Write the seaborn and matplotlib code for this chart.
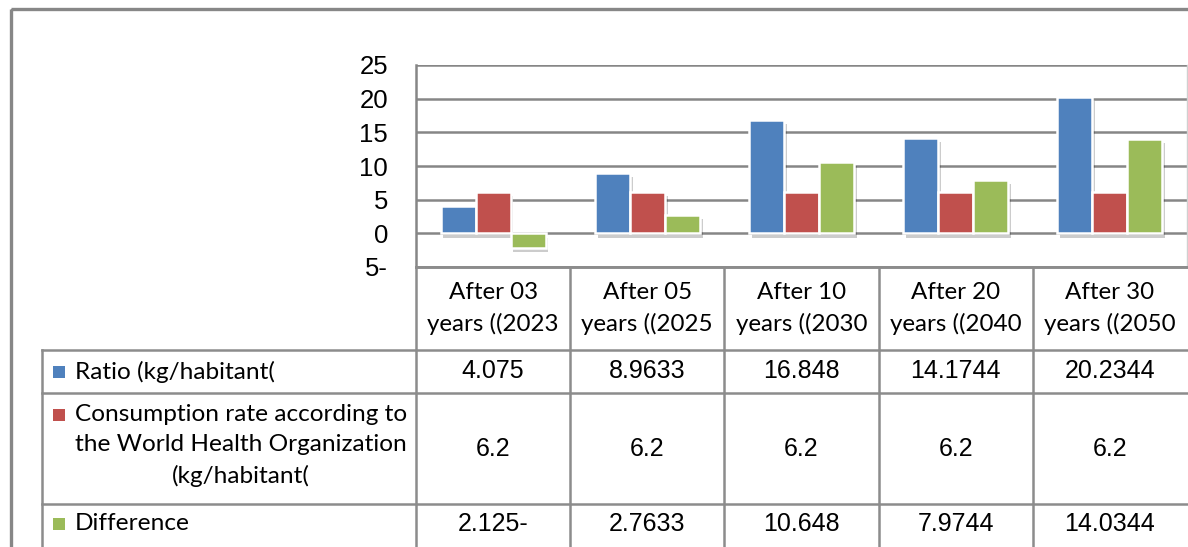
import matplotlib
matplotlib.use("Agg")
import matplotlib.pyplot as plt
import matplotlib.patheffects as pe
from matplotlib.patches import Rectangle
import pandas as pd
import seaborn as sns

# ---- data -------------------------------------------------------------
periods = ["After 03\nyears ((2023", "After 05\nyears ((2025", "After 10\nyears ((2030",
           "After 20\nyears ((2040", "After 30\nyears ((2050"]
series = ["Ratio (kg/habitant(",
          "Consumption rate according to\nthe World Health Organization\n(kg/habitant(",
          "Difference"]
ratio = [4.075, 8.9633, 16.848, 14.1744, 20.2344]
who_rate = [6.2, 6.2, 6.2, 6.2, 6.2]
difference = [-2.125, 2.7633, 10.648, 7.9744, 14.0344]
y_ticks = [-5, 0, 5, 10, 15, 20, 25]

colors = ["#4F81BD", "#C0504D", "#9BBB59"]
values = [ratio, who_rate, difference]


def rtl_num(v):
    """Number with the minus sign written after the digits."""
    s = f"{abs(v):g}"
    return s + "-" if v < 0 else s


df = pd.DataFrame({
    "period": [p for _ in series for p in periods],
    "series": [s for s in series for _ in periods],
    "value": [v for vals in values for v in vals],
})

# ---- figure layout (pixel based) -------------------------------------
W, H = 1188, 547
fig = plt.figure(figsize=(W / 100, H / 100), dpi=100)
fig.patch.set_facecolor("white")

GRID = "#868686"
LINE = "#8c8c8c"
NUM_FONT = "Liberation Sans"
TXT_FONT = "Lato"

PL, PT, PR, PB = 416, 65, 1187, 267


def px_axes(l, t, r, b, **kw):
    return fig.add_axes([l / W, 1 - b / H, (r - l) / W, (b - t) / H], **kw)


ax = px_axes(PL, PT, PR, PB)
sns.barplot(data=df, x="period", y="value", hue="series", hue_order=series,
            order=periods, palette=colors, saturation=1, width=0.68,
            edgecolor="white", linewidth=1.8, legend=False, ax=ax, zorder=3)

for bar in ax.patches:
    bar.set_path_effects([pe.SimplePatchShadow(offset=(2, -3), shadow_rgbFace="#000000", alpha=0.2),
                          pe.Normal()])

ax.set_xlim(-0.5, 4.5)
ax.set_ylim(-5, 25)
ax.set_yticks(y_ticks)
ax.set_yticklabels([rtl_num(v) for v in y_ticks], fontfamily=NUM_FONT, fontsize=18.5)
ax.set_xticks([])
ax.set_xlabel("")
ax.set_ylabel("")
ax.tick_params(axis="y", length=0, pad=20)
ax.set_axisbelow(True)
ax.grid(axis="y", color=GRID, linewidth=1.8)
ax.grid(axis="x", visible=False)
ax.spines["top"].set_visible(False)
ax.spines["left"].set_color(GRID)
ax.spines["left"].set_linewidth(1.8)
ax.spines["bottom"].set_color(GRID)
ax.spines["bottom"].set_linewidth(1.8)
ax.spines["right"].set_color("#d0d0d0")
ax.spines["right"].set_linewidth(1.0)
ax.set_facecolor("white")

# ---- overlay in pixel coordinates for frame and data table -----------
ov = fig.add_axes([0, 0, 1, 1], facecolor="none")
ov.set_xlim(0, W)
ov.set_ylim(H, 0)
ov.axis("off")

# chart area border
ov.add_patch(Rectangle((11, 9), W + 20, H + 20, fill=False, edgecolor="#878787", linewidth=2.4))

col_w = (PR - PL) / len(periods)
col_edges = [PL + i * col_w for i in range(len(periods) + 1)]
col_mid = [PL + (i + 0.5) * col_w for i in range(len(periods))]

LEG_L = 42
HDR_T, R1_T, R2_T, R3_T, TBL_B = PB, 350, 393, 504, H + 5
row_mid = [(R1_T + R2_T) / 2, (R2_T + R3_T) / 2, 524]

lw = 1.8
# horizontal rules
ov.plot([PL, W], [HDR_T, HDR_T], color=LINE, lw=lw)
for y in (R1_T, R2_T, R3_T):
    ov.plot([LEG_L, W], [y, y], color=LINE, lw=lw)
# vertical rules
ov.plot([LEG_L, LEG_L], [R1_T, TBL_B], color=LINE, lw=lw)
for x in col_edges[:-1]:
    ov.plot([x, x], [HDR_T, TBL_B], color=LINE, lw=lw)

# header labels
for x, lab in zip(col_mid, periods):
    ov.text(x, (HDR_T + R1_T) / 2, lab, ha="center", va="center", fontfamily=TXT_FONT,
            fontsize=17.4, linespacing=1.5, color="black")

# legend column + values
for i, (name, vals, c) in enumerate(zip(series, values, colors)):
    ym = row_mid[i]
    if "\n" in name:
        ov.text(241, ym - 3, name, ha="center", va="center", multialignment="center",
                fontfamily=TXT_FONT, fontsize=17.6, linespacing=1.52, color="black")
        marker_y = ym - 34
    else:
        ov.text(75, ym, name, ha="left", va="center", fontfamily=TXT_FONT, fontsize=17.6,
                color="black")
        marker_y = ym
    ov.add_patch(Rectangle((53, marker_y - 6), 12, 12, facecolor=c, edgecolor="none"))
    for x, v in zip(col_mid, vals):
        ov.text(x, ym, rtl_num(v), ha="center", va="center", fontfamily=NUM_FONT,
                fontsize=18, color="black")

fig.savefig("out.png", dpi=100, facecolor="white")
